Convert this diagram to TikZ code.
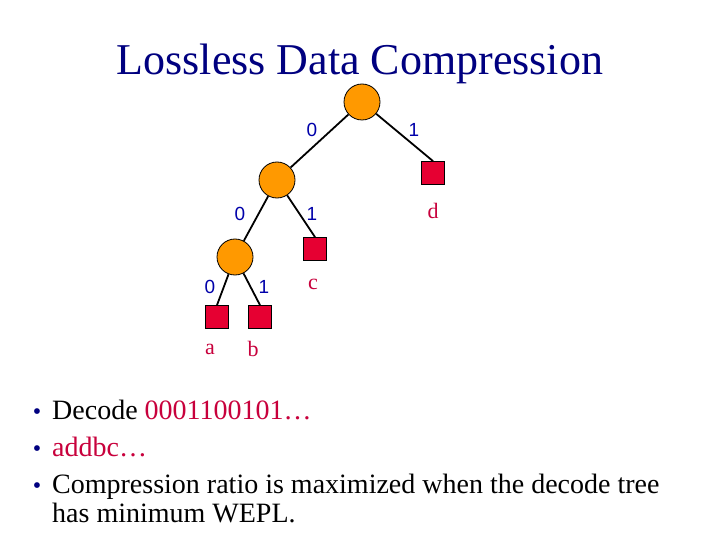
\documentclass[tikz,border=0pt]{standalone}
\usepackage{fontspec}
\setmainfont{Liberation Serif}
\newfontfamily\bitfont{Liberation Sans}
\usetikzlibrary{positioning}
\definecolor{titleblue}{RGB}{0,0,128}
\definecolor{bitblue}{RGB}{0,0,170}
\definecolor{leafred}{RGB}{230,0,50}
\definecolor{symred}{RGB}{200,0,60}
\definecolor{innerorange}{RGB}{255,153,0}
\tikzset{
  innernode/.style={circle, draw, fill=innerorange, minimum size=36pt,
                    inner sep=0pt, line width=0.8pt},
  leafnode/.style={rectangle, draw, fill=leafred, minimum size=23pt,
                   inner sep=0pt, line width=0.8pt},
  treeedge/.style={line width=1.8pt},
  bitlabel/.style={font=\bitfont\fontsize{19}{19}\selectfont, text=bitblue},
  symlabel/.style={font=\fontsize{22}{22}\selectfont, text=symred},
  bulletmark/.style={anchor=base, font=\fontsize{24}{24}\selectfont, text=titleblue},
  bullettext/.style={anchor=base west, font=\fontsize{28}{29}\selectfont,
                     inner sep=0pt},
}

\begin{document}
\begin{tikzpicture}[x=1pt, y=-1pt]
  \useasboundingbox[fill=white] (0,0) rectangle (720,540);

  \node[text=titleblue, font=\fontsize{44}{48}\selectfont, anchor=base]
    (title) at (360,75) {Lossless Data Compression};

  % decode tree
  \node[innernode] (root) at (362,102) {};
  \node[innernode] (mid) at (277,180) {};
  \node[innernode] (low) at (235,257) {};
  \node[leafnode] (d) at (433,173) {};
  \node[leafnode] (c) at (315,249) {};
  \node[leafnode] (a) at (217,317) {};
  \node[leafnode] (b) at (260,317) {};

  \draw[treeedge] (root) -- (mid);
  \draw[treeedge] (root) -- (d.north);
  \draw[treeedge] (mid) -- (low);
  \draw[treeedge] (mid) -- (c.north);
  \draw[treeedge] (low) -- (a.north);
  \draw[treeedge] (low) -- (b.north);

  \node[bitlabel] (r0) at (312,130) {0};
  \node[bitlabel] (r1) at (414,130) {1};
  \node[bitlabel] (m0) at (240,214) {0};
  \node[bitlabel] (m1) at (312,214) {1};
  \node[bitlabel] (l0) at (210,287) {0};
  \node[bitlabel] (l1) at (264,287) {1};

  \node[symlabel] (dsym) at (433,211) {d};
  \node[symlabel] (csym) at (313,284) {c};
  \node[symlabel] (asym) at (210,349) {a};
  \node[symlabel] (bsym) at (253,349) {b};

  % bullets
  \node[bulletmark] (b1) at (37,419) {•};
  \node[bullettext] (t1) at (52,419) {Decode \textcolor{symred}{0001100101…}};
  \node[bulletmark] (b2) at (37,456) {•};
  \node[bullettext] (t2) at (52,456) {\textcolor{symred}{addbc…}};
  \node[bulletmark] (b3) at (37,493) {•};
  \node[bullettext] (t3) at (52,493)
    {Compression ratio is maximized when the decode tree};
  \node[bullettext] (t3b) at (52,522) {has minimum WEPL.};
\end{tikzpicture}
\end{document}
